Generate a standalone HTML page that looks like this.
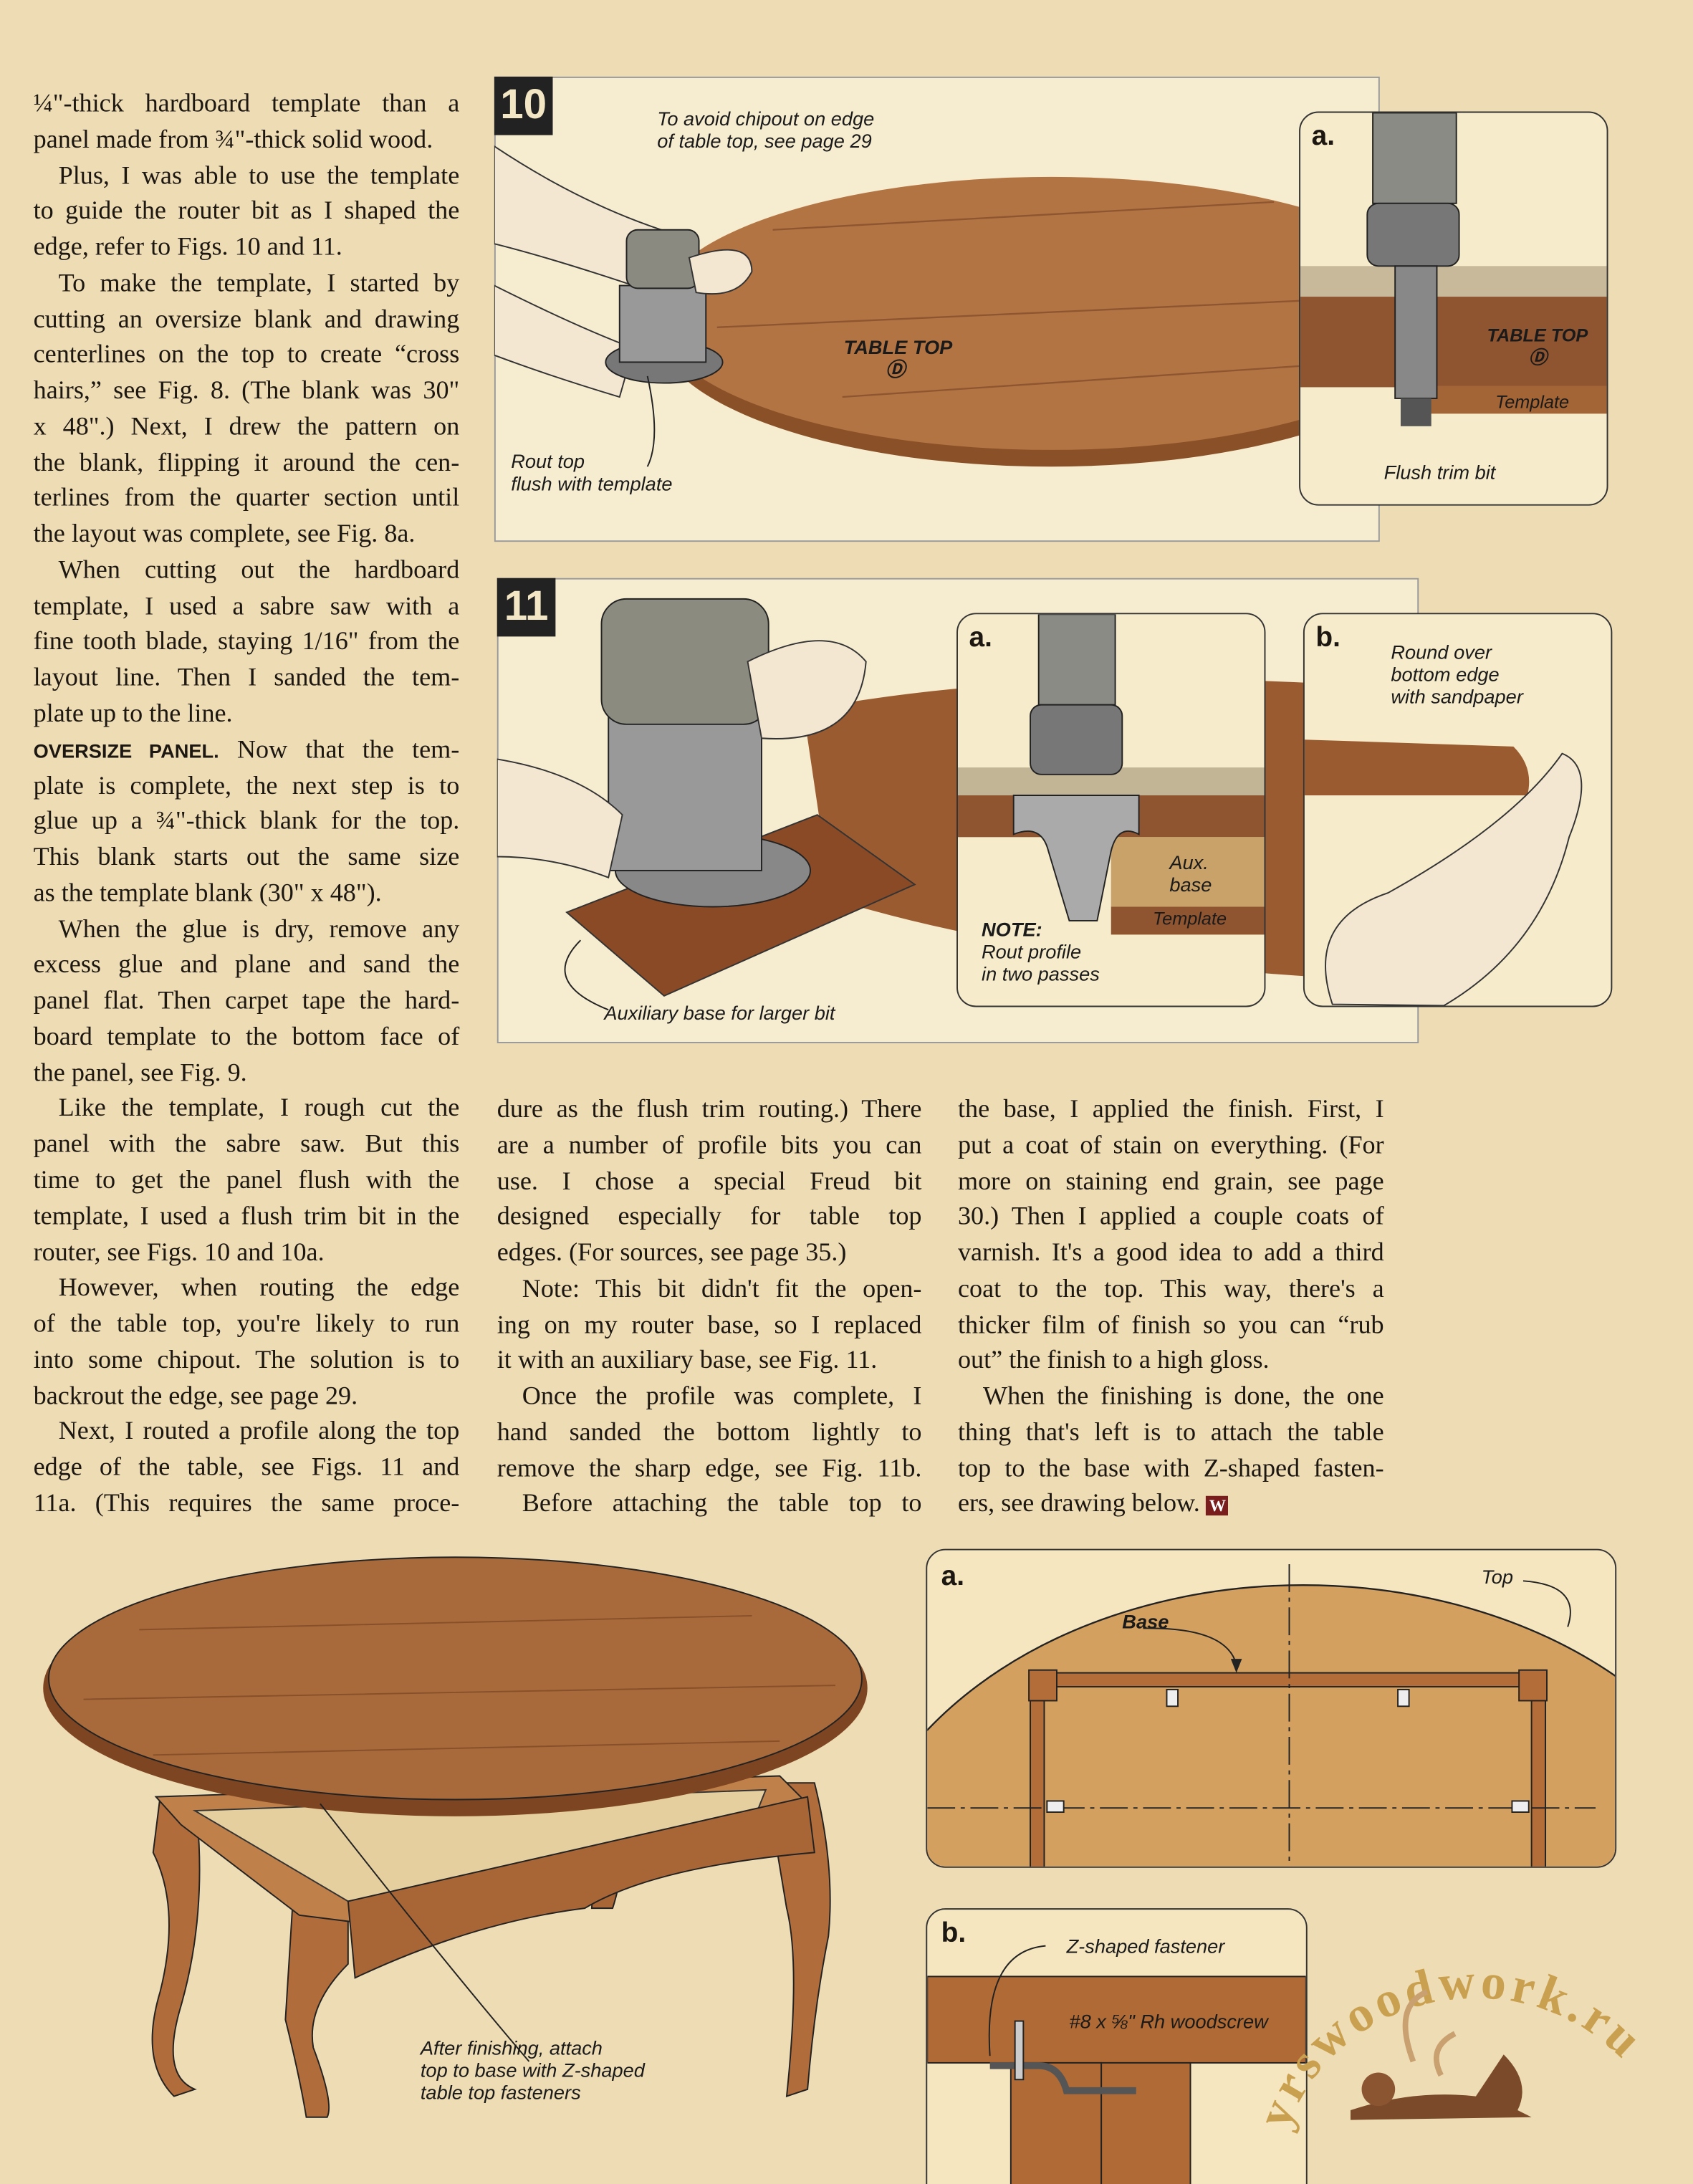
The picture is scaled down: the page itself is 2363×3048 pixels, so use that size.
<!DOCTYPE html>
<html><head><meta charset="utf-8"><style>
html,body{margin:0;padding:0;background:#eedcb4;}
#w{position:absolute;left:0;top:0;width:1216px;height:1568px;transform:scale(1.9433,1.9439);transform-origin:0 0;background:#eedcb4;overflow:hidden;font-family:"Liberation Serif",serif;color:#1d1712;}
.col{position:absolute;font-size:18.6px;line-height:25.77px;}
.col div{text-align:justify;text-align-last:justify;white-space:nowrap;height:25.77px;}
.col div.l{text-align-last:left;}
.col div.i{padding-left:18px;}
.lab{position:absolute;font-family:"Liberation Sans",sans-serif;font-style:italic;font-size:14px;line-height:16px;color:#1a1a1a;}
.box{position:absolute;border:1.5px solid #333;border-radius:14px;background:#f6ebca;overflow:hidden;}
.num{position:absolute;background:#222;color:#f3e6c4;font-family:"Liberation Sans",sans-serif;font-weight:bold;font-size:30px;text-align:center;line-height:42px;width:42px;height:42px;}
.let{position:absolute;font-family:"Liberation Sans",sans-serif;font-weight:900;font-size:20px;}
</style></head><body><div id="w">

<div class="col" style="left:24px;top:62px;width:306px;">
<div>¼"-thick hardboard template than a</div>
<div class="l">panel made from ¾"-thick solid wood.</div>
<div class="i">Plus, I was able to use the template</div>
<div>to guide the router bit as I shaped the</div>
<div class="l">edge, refer to Figs. 10 and 11.</div>
<div class="i">To make the template, I started by</div>
<div>cutting an oversize blank and drawing</div>
<div>centerlines on the top to create “cross</div>
<div>hairs,” see Fig. 8. (The blank was 30"</div>
<div>x 48".) Next, I drew the pattern on</div>
<div>the blank, flipping it around the cen-</div>
<div>terlines from the quarter section until</div>
<div class="l">the layout was complete, see Fig. 8a.</div>
<div class="i">When cutting out the hardboard</div>
<div>template, I used a sabre saw with a</div>
<div>fine tooth blade, staying 1/16" from the</div>
<div>layout line. Then I sanded the tem-</div>
<div class="l">plate up to the line.</div>
<div><b style="font-family:'Liberation Sans',sans-serif;font-size:14px;">OVERSIZE PANEL.</b> Now that the tem-</div>
<div>plate is complete, the next step is to</div>
<div>glue up a ¾"-thick blank for the top.</div>
<div>This blank starts out the same size</div>
<div class="l">as the template blank (30" x 48").</div>
<div class="i">When the glue is dry, remove any</div>
<div>excess glue and plane and sand the</div>
<div>panel flat. Then carpet tape the hard-</div>
<div>board template to the bottom face of</div>
<div class="l">the panel, see Fig. 9.</div>
<div class="i">Like the template, I rough cut the</div>
<div>panel with the sabre saw. But this</div>
<div>time to get the panel flush with the</div>
<div>template, I used a flush trim bit in the</div>
<div class="l">router, see Figs. 10 and 10a.</div>
<div class="i">However, when routing the edge</div>
<div>of the table top, you're likely to run</div>
<div>into some chipout. The solution is to</div>
<div class="l">backrout the edge, see page 29.</div>
<div class="i">Next, I routed a profile along the top</div>
<div>edge of the table, see Figs. 11 and</div>
<div>11a. (This requires the same proce-</div>
</div>

<div class="col" style="left:357px;top:784px;width:305px;">
<div>dure as the flush trim routing.) There</div>
<div>are a number of profile bits you can</div>
<div>use. I chose a special Freud bit</div>
<div>designed especially for table top</div>
<div class="l">edges. (For sources, see page 35.)</div>
<div class="i">Note: This bit didn't fit the open-</div>
<div>ing on my router base, so I replaced</div>
<div class="l">it with an auxiliary base, see Fig. 11.</div>
<div class="i">Once the profile was complete, I</div>
<div>hand sanded the bottom lightly to</div>
<div>remove the sharp edge, see Fig. 11b.</div>
<div class="i">Before attaching the table top to</div>
</div>

<div class="col" style="left:688px;top:784px;width:306px;">
<div>the base, I applied the finish. First, I</div>
<div>put a coat of stain on everything. (For</div>
<div>more on staining end grain, see page</div>
<div>30.) Then I applied a couple coats of</div>
<div>varnish. It's a good idea to add a third</div>
<div>coat to the top. This way, there's a</div>
<div>thicker film of finish so you can “rub</div>
<div class="l">out” the finish to a high gloss.</div>
<div class="i">When the finishing is done, the one</div>
<div>thing that's left is to attach the table</div>
<div>top to the base with Z-shaped fasten-</div>
<div class="l">ers, see drawing below. <span style="background:#7a1d1d;color:#fff;font-size:12px;padding:0 2px;font-weight:bold;">W</span></div>
</div>

<!-- Fig 10 -->
<div style="position:absolute;left:355px;top:55px;width:634px;height:332px;background:#f6ecd0;border:1px solid #999;"></div>
<svg style="position:absolute;left:355px;top:55px" width="634" height="334">
<ellipse cx="400" cy="178" rx="285" ry="102" fill="#8a5128"/>
<ellipse cx="400" cy="170" rx="285" ry="98" fill="#b37443"/>
<path d="M200 110 L560 90 M160 180 L600 160 M250 230 L620 205" stroke="#8d5530" stroke-width="1.2" fill="none"/>
<path d="M0 50 Q60 90 120 110 L100 150 Q40 130 0 120Z" fill="#f3e7d2" stroke="#333"/>
<path d="M0 150 Q60 180 100 195 L90 230 Q40 215 0 200Z" fill="#f3e7d2" stroke="#333"/>
<ellipse cx="122" cy="205" rx="42" ry="15" fill="#777" stroke="#222"/>
<rect x="90" y="150" width="62" height="55" fill="#999" stroke="#222"/>
<rect x="95" y="110" width="52" height="42" rx="8" fill="#8a8a80" stroke="#222"/>
<path d="M140 130 Q185 115 185 140 Q175 160 145 155Z" fill="#f3e7d2" stroke="#333"/>
<path d="M110 215 Q120 260 110 280" stroke="#222" fill="none"/>
</svg>
<div class="num" style="left:355px;top:55px;">10</div>
<div class="lab" style="left:472px;top:77px;">To avoid chipout on edge<br>of table top, see page 29</div>
<div class="lab" style="left:606px;top:241px;font-weight:bold;font-size:14px;">TABLE TOP<br><span style="margin-left:30px;">Ⓓ</span></div>
<div class="lab" style="left:367px;top:323px;">Rout top<br>flush with template</div>
<div class="box" style="left:933px;top:80px;width:220px;height:281px;">
<svg width="220" height="281"><rect x="0" y="110" width="220" height="22" fill="#c7b99a"/><rect x="0" y="132" width="220" height="65" fill="#8f5430"/><rect x="90" y="196" width="130" height="20" fill="#a36436"/>
<rect x="52" y="0" width="60" height="65" fill="#8b8b85" stroke="#222"/><rect x="48" y="65" width="66" height="45" rx="8" fill="#777" stroke="#222"/><rect x="68" y="110" width="30" height="95" fill="#888" stroke="#222"/><rect x="72" y="205" width="22" height="20" fill="#555"/></svg>
<div class="let" style="left:8px;top:6px;">a.</div>
<div class="lab" style="left:134px;top:152px;font-weight:bold;font-size:13px;">TABLE TOP<br><span style="margin-left:30px;">Ⓓ</span></div>
<div class="lab" style="left:140px;top:200px;font-size:13px;">Template</div>
<div class="lab" style="left:60px;top:250px;">Flush trim bit</div>
</div>

<!-- Fig 11 -->
<div style="position:absolute;left:357px;top:415px;width:660px;height:332px;background:#f6ecd0;border:1px solid #999;"></div>
<svg style="position:absolute;left:357px;top:415px" width="660" height="334">
<path d="M220 95 Q400 60 660 80 L660 290 Q400 280 240 230Z" fill="#9b5b30"/>
<path d="M50 240 L230 170 L300 220 L120 300Z" fill="#8a4a26" stroke="#333"/>
<ellipse cx="155" cy="210" rx="70" ry="26" fill="#888" stroke="#222"/>
<rect x="80" y="100" width="110" height="110" fill="#999" stroke="#222"/>
<rect x="75" y="15" width="120" height="90" rx="18" fill="#8b8b80" stroke="#222"/>
<path d="M0 130 Q60 140 90 170 L80 215 Q40 200 0 200Z" fill="#f3e7d2" stroke="#333"/>
<path d="M180 60 Q240 30 265 60 Q260 120 190 115Z" fill="#f3e7d2" stroke="#333"/>
<path d="M60 260 Q30 290 80 310" stroke="#222" fill="none"/>
</svg>
<div class="num" style="left:357px;top:415px;">11</div>
<div class="lab" style="left:434px;top:719px;">Auxiliary base for larger bit</div>
<div class="box" style="left:687px;top:440px;width:220px;height:281px;">
<svg width="220" height="281"><rect x="0" y="110" width="220" height="20" fill="#c2b596"/><rect x="0" y="130" width="220" height="30" fill="#8f5430"/><rect x="110" y="160" width="110" height="50" fill="#c9a269"/><rect x="110" y="210" width="110" height="20" fill="#8f5430"/>
<rect x="58" y="0" width="55" height="65" fill="#8b8b85" stroke="#222"/><rect x="52" y="65" width="66" height="50" rx="8" fill="#777" stroke="#222"/><path d="M40 158 Q60 150 65 170 L80 220 L100 220 L110 170 Q115 150 130 158 L130 130 L40 130Z" fill="#aaa" stroke="#222"/></svg>
<div class="let" style="left:8px;top:6px;">a.</div>
<div class="lab" style="left:152px;top:170px;">Aux.<br>base</div>
<div class="lab" style="left:140px;top:211px;font-size:13px;">Template</div>
<div class="lab" style="left:17px;top:218px;"><b>NOTE:</b><br>Rout profile<br>in two passes</div>
</div>
<div class="box" style="left:936px;top:440px;width:220px;height:281px;">
<svg width="220" height="281"><path d="M0 90 L150 95 Q165 110 160 130 L0 130Z" fill="#9b5b30"/><path d="M20 280 Q0 220 60 200 Q150 150 185 100 Q210 110 190 160 Q170 240 100 281Z" fill="#f3e7d2" stroke="#333"/></svg>
<div class="let" style="left:8px;top:6px;">b.</div>
<div class="lab" style="left:62px;top:19px;">Round over<br>bottom edge<br>with sandpaper</div>
</div>

<!-- Table drawing -->
<svg style="position:absolute;left:20px;top:1110px" width="620" height="420">
<path d="M95 180 L120 180 Q130 260 110 330 Q95 380 120 390 L105 395 Q80 370 95 320 Q110 260 90 220Z" fill="#b06c3a" stroke="#222"/>
<path d="M190 260 L230 260 L230 300 Q200 330 205 360 Q220 400 215 410 L200 410 Q195 380 185 340Z" fill="#b06c3a" stroke="#222"/>
<path d="M530 170 L565 170 Q580 230 575 280 Q565 330 560 390 L545 395 Q555 300 545 260Z" fill="#b06c3a" stroke="#222"/>
<path d="M410 170 L430 170 Q430 230 420 260 L405 260Z" fill="#a86535" stroke="#222"/>
<path d="M92 180 L540 165 L560 185 L235 270 L195 265 L110 200Z" fill="#c0804a" stroke="#222"/>
<path d="M120 190 L530 175 L520 200 L230 255Z" fill="#e5cf9e" stroke="#333"/>
<path d="M230 255 L560 180 L565 220 Q450 230 400 260 Q320 270 235 310Z" fill="#a86535" stroke="#222"/>
<ellipse cx="307" cy="102" rx="296" ry="92" fill="#7e4522"/>
<ellipse cx="307" cy="95" rx="292" ry="87" fill="#a86a3a" stroke="#222"/>
<path d="M80 60 L520 50 M40 110 L580 100 M90 150 L540 140" stroke="#87502a" fill="none"/>
<path d="M210 185 Q300 300 360 370" stroke="#222" fill="none"/>
</svg>
<div class="lab" style="left:302px;top:1462px;">After finishing, attach<br>top to base with Z-shaped<br>table top fasteners</div>

<!-- Fig a bottom -->
<div class="box" style="left:665px;top:1112px;width:494px;height:227px;background:#f5e6bf;">
<svg width="494" height="227"><ellipse cx="270" cy="270" rx="330" ry="245" fill="#d3a060" stroke="#222" stroke-width="1.2"/>
<rect x="74" y="88" width="370" height="10" fill="#b36d38" stroke="#222"/><rect x="74" y="88" width="10" height="140" fill="#b36d38" stroke="#222"/><rect x="434" y="88" width="10" height="140" fill="#b36d38" stroke="#222"/>
<rect x="73" y="86" width="20" height="22" fill="#b36d38" stroke="#222"/><rect x="425" y="86" width="20" height="22" fill="#b36d38" stroke="#222"/>
<line x1="260" y1="10" x2="260" y2="227" stroke="#222" stroke-dasharray="20,4,3,4"/><line x1="0" y1="185" x2="480" y2="185" stroke="#222" stroke-dasharray="20,4,3,4"/>
<rect x="172" y="100" width="8" height="12" fill="#eee" stroke="#222"/><rect x="338" y="100" width="8" height="12" fill="#eee" stroke="#222"/><rect x="86" y="180" width="12" height="8" fill="#eee" stroke="#222"/><rect x="420" y="180" width="12" height="8" fill="#eee" stroke="#222"/>
<path d="M155 56 Q215 55 222 82" stroke="#222" fill="none"/><path d="M218 78 L222 88 L226 78Z" fill="#222"/>
<path d="M428 22 Q470 25 460 55" stroke="#222" fill="none"/></svg>
<div class="let" style="left:10px;top:8px;">a.</div>
<div class="lab" style="left:140px;top:43px;font-weight:bold;">Base</div>
<div class="lab" style="left:398px;top:11px;">Top</div>
</div>
<!-- Fig b bottom -->
<div class="box" style="left:665px;top:1370px;width:272px;height:230px;background:#f5e6bf;">
<svg width="272" height="230"><rect x="0" y="48" width="272" height="62" fill="#b06a35" stroke="#222"/><rect x="60" y="110" width="65" height="120" fill="#b06a35" stroke="#222"/><rect x="125" y="110" width="64" height="120" fill="#b06a35" stroke="#222"/><path d="M45 112 L80 112 Q95 112 100 130 L150 130" stroke="#555" stroke-width="5" fill="none"/><rect x="63" y="80" width="6" height="42" fill="#ccc" stroke="#222"/><path d="M85 26 Q40 30 45 105" stroke="#222" fill="none"/></svg>
<div class="let" style="left:10px;top:6px;">b.</div>
<div class="lab" style="left:100px;top:18px;">Z-shaped fastener</div>
<div class="lab" style="left:102px;top:72px;">#8 x ⅝" Rh woodscrew</div>
</div>
<svg style="position:absolute;left:895px;top:1360px" width="320" height="200">
<path id="arc" d="M30 170 A140 130 0 0 1 300 170" fill="none"/>
<text font-family="Liberation Serif,serif" font-weight="bold" font-size="36" fill="#c9a050" letter-spacing="3"><textPath href="#arc">yrswoodwork.ru</textPath></text>
<path d="M75 155 Q120 140 165 145 L185 115 Q205 135 195 155 L205 160 L75 162Z" fill="#7a4a2a"/><circle cx="95" cy="140" r="12" fill="#8a5530"/>
<path d="M120 120 Q105 80 130 70 M140 130 Q130 110 150 100" stroke="#c9a070" stroke-width="4" fill="none"/>
</svg>

</div></body></html>
